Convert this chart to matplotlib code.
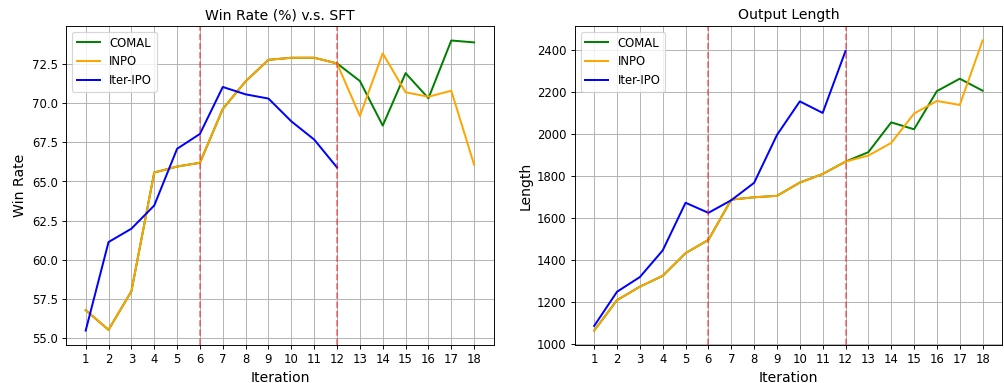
import numpy as np
import matplotlib.pyplot as plt

iters = np.arange(1, 19)

# Win rate (%) v.s. SFT
win_comal = [56.8, 55.55, 58.0, 65.57, 65.95, 66.19, 69.62, 71.38, 72.75, 72.88, 72.88, 72.52,
             71.4, 68.56, 71.9, 70.3, 73.98, 73.86]
win_inpo = [56.8, 55.55, 58.0, 65.57, 65.95, 66.19, 69.62, 71.38, 72.75, 72.88, 72.88, 72.52,
            69.17, 73.16, 70.68, 70.4, 70.78, 66.06]
win_iter = [55.5, 61.14, 61.99, 63.47, 67.08, 68.03, 71.02, 70.55, 70.28, 68.83, 67.67, 65.89]

# Output length
len_comal = [1062, 1207, 1271, 1323, 1431, 1494, 1686, 1697, 1704, 1767, 1808, 1867,
             1912, 2054, 2021, 2203, 2262, 2205]
len_inpo = [1062, 1207, 1271, 1323, 1431, 1494, 1686, 1697, 1704, 1767, 1808, 1867,
            1896, 1956, 2096, 2156, 2137, 2444]
len_iter = [1084, 1247, 1317, 1444, 1671, 1623, 1683, 1766, 1994, 2154, 2099, 2394]

fig, (ax1, ax2) = plt.subplots(1, 2, figsize=(12, 4.578))
fig.subplots_adjust(left=0.066, right=0.998, top=0.932, bottom=0.099, wspace=0.19)

def panel(ax, comal, inpo, it, title, ylabel):
    ax.plot(iters, comal, color="green", lw=1.7, label="COMAL")
    ax.plot(iters, inpo, color="orange", lw=1.7, label="INPO")
    ax.plot(iters[:len(it)], it, color="blue", lw=1.7, label="Iter-IPO")
    ax.axvline(x=6, color="red", linestyle="--", alpha=0.5)
    ax.axvline(x=12, color="red", linestyle="--", alpha=0.5)
    ax.set_xticks(iters)
    ax.set_title(title, fontsize=12)
    ax.set_xlabel("Iteration", fontsize=12)
    ax.set_ylabel(ylabel, fontsize=12)
    ax.legend(loc="upper left")
    ax.grid(True)

panel(ax1, win_comal, win_inpo, win_iter, "Win Rate (%) v.s. SFT", "Win Rate")
panel(ax2, len_comal, len_inpo, len_iter, "Output Length", "Length")

plt.savefig("out.png", dpi=83.67)
